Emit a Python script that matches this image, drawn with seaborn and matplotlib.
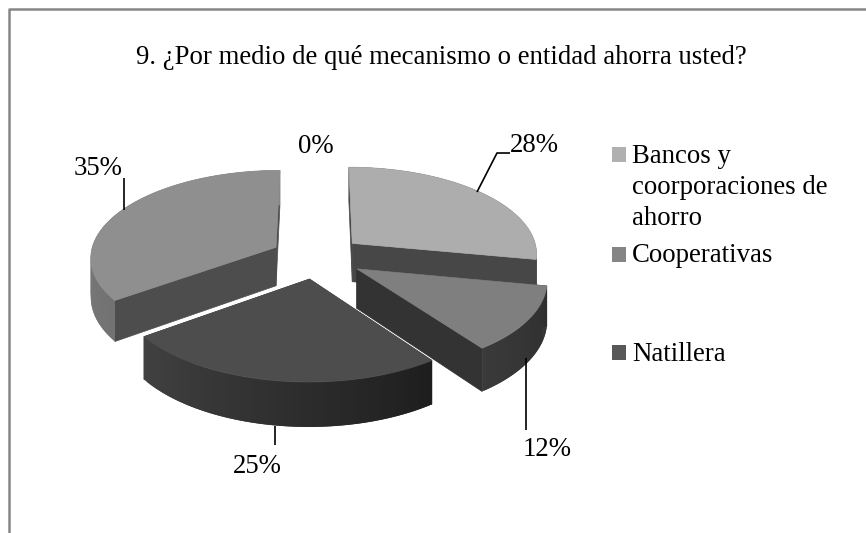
import numpy as np
import matplotlib
matplotlib.use("Agg")
import matplotlib.pyplot as plt
from matplotlib.patches import Polygon, Rectangle
import seaborn as sns

categories = ["Bancos y\ncoorporaciones de\nahorro", "Cooperativas", "Natillera", "Otro", ""]
values = [28, 12, 25, 35, 0]
title = "9. ¿Por medio de qué mecanismo o entidad ahorra usted?"

top_colors = ["#adadad", "#7f7f7f", "#4d4d4d", "#8f8f8f"]
cut_colors = ["#474747", "#333333", "#3a3a3a", "#4d4d4d"]
wall_from = ["#474747", "#3a3a3a", "#414141", "#8a8a8a"]
wall_to = ["#474747", "#2e2e2e", "#1e1e1e", "#727272"]
legend_colors = ["#b0b0b0", "#858585", "#585858"]

W, H = 866, 533
CX, CY, RX, RY, K, DEPTH, EXPLODE = 317, 257, 186, 87, 0.106, 39, 0.25
FS = 19.3

sns.set_theme(style="white")
plt.rcParams["font.family"] = ["Liberation Serif", "DejaVu Serif"]
fig = plt.figure(figsize=(W / 100, H / 100), dpi=100, facecolor="white")
ax = fig.add_axes([0, 0, 1, 1])
wedges, _ = ax.pie(values, explode=[EXPLODE] * len(values), startangle=90, counterclock=False)
ax.set_aspect("auto")
ax.set_xlim(0, W)
ax.set_ylim(H, 0)
ax.set_axis_off()


def project(u, v, down=0.0):
    s = 1 / (1 + K * v)
    return CX + RX * u * s, CY - RY * v * s + down * s


def arc(w, n=60):
    t = np.radians(np.linspace(w.theta1, w.theta2, n))
    return w.center[0] + w.r * np.cos(t), w.center[1] + w.r * np.sin(t)


def mix(c1, c2, f):
    a, b = np.array(matplotlib.colors.to_rgb(c1)), np.array(matplotlib.colors.to_rgb(c2))
    return tuple(a + (b - a) * f)


def quad(p, color, z, lw=0.5):
    ax.add_patch(Polygon(p, closed=True, facecolor=color, edgecolor=color if lw else "none",
                         linewidth=lw, zorder=z))


for w in wedges:
    w.set_visible(False)

for z, i in enumerate([3, 0, 1, 2]):
    w = wedges[i]
    base = 2 + z
    us, vs = arc(w)
    cu, cv = w.center
    # flat cut faces
    for eu, ev in [(us[0], vs[0]), (us[-1], vs[-1])]:
        pts = [project(cu, cv), project(eu, ev), project(eu, ev, DEPTH), project(cu, cv, DEPTH)]
        quad(pts, cut_colors[i], base)
    # curved outer face, shaded along the arc; pieces overlap so no seams show
    for j in range(len(us) - 1):
        k = min(j + 2, len(us) - 1)
        pts = [project(us[j], vs[j]), project(us[k], vs[k]),
               project(us[k], vs[k], DEPTH), project(us[j], vs[j], DEPTH)]
        quad(pts, mix(wall_from[i], wall_to[i], j / (len(us) - 2)), base + 0.1 + j * 1e-4, lw=0)
    # top face
    top = [project(cu, cv)] + [project(a, b) for a, b in zip(us, vs)]
    quad(top, top_colors[i], base + 0.2)

# chart frame: only top and left edges fall inside the picture
frame_color = "#868686"
ax.plot([8.5, 8.5, W], [H, 8.5, 8.5], color=frame_color, lw=1.8, zorder=1)

ax.text(441.5, 64, title, ha="center", va="baseline", fontsize=FS, color="black", zorder=10)

# percent labels, from the values
label_pos = [(534, 152), (547.5, 456), (257, 473), (98, 175), (316, 153)]
for v, (x, y) in zip(values, label_pos):
    ax.text(x, y, f"{v}%", ha="center", va="baseline", fontsize=FS, color="black", zorder=10)

# leader lines
leaders = [([477, 497, 510], [192, 153, 153]), ([526, 526], [358, 430]),
           ([275, 275], [426, 445]), ([124, 124], [178, 210])]
for xs, ys in leaders:
    ax.plot(xs, ys, color="black", lw=1.2, zorder=9, solid_capstyle="butt")

# legend
legend_box = [147, 247, 345]
legend_base = [[163, 194, 225], [262], [361]]
for lab, col, y, bases in zip(categories[:3], legend_colors, legend_box, legend_base):
    ax.add_patch(Rectangle((612, y), 14, 14.5, facecolor=col, edgecolor="none", zorder=9))
    for line, b in zip(lab.split("\n"), bases):
        ax.text(632, b, line, ha="left", va="baseline", fontsize=FS, color="black", zorder=10)

fig.savefig("out.png", dpi=100, facecolor="white")
